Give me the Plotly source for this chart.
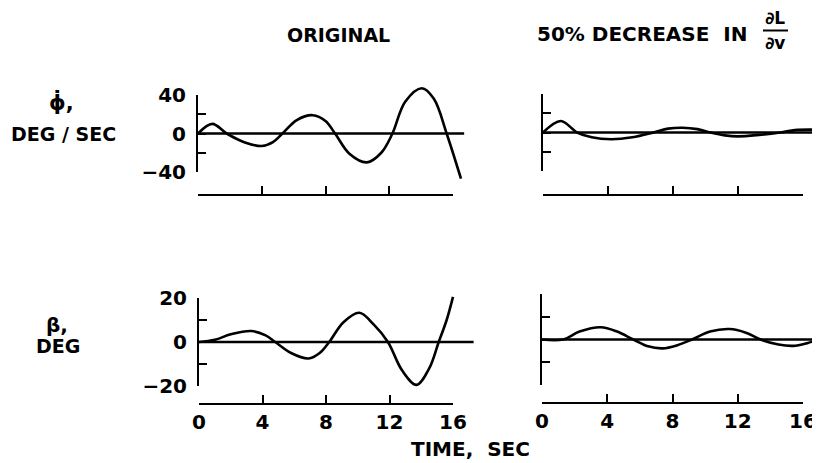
import plotly.graph_objects as go

# ---------------- data ----------------
time_ticks = [0, 4, 8, 12, 16]
time_tick_labels = ["0", "4", "8", "12", "16"]

phidot_ticks = [-40, -20, 0, 20, 40]
phidot_tick_labels = ["\u221240", "", "0", "", "40"]
beta_ticks = [-20, -10, 0, 10, 20]
beta_tick_labels = ["\u221220", "", "0", "", "20"]

# roll rate, original
t_phi_orig = [0, 0.9, 1.8, 2.9, 4.0, 4.7, 5.3, 6.2, 7.2, 8.0, 8.6, 9.5, 10.6, 11.5, 12.2, 13.0, 14.05, 14.8, 15.6, 16.5]
phi_orig = [0, 10, 0, -9, -13, -9, 0, 14, 19, 13, 0, -21, -30, -20, 0, 33, 47, 36, 0, -47]

# roll rate, 50% decrease in dL/dv
t_phi_mod = [0, 1.1, 2.1, 3.0, 4.2, 5.5, 6.8, 7.7, 8.6, 9.5, 10.3, 11.2, 12.0, 13.3, 14.6, 15.5, 16.5, 17.2]
phi_mod = [0, 12, 0, -5, -7, -5, 0, 4, 5, 3.5, 0, -3, -4, -2.5, 0, 2.5, 3, 2.5]

# sideslip, original
t_beta_orig = [0, 1.0, 2.0, 3.3, 4.2, 4.8, 5.8, 6.9, 7.6, 8.2, 9.1, 10.1, 11.0, 11.9, 12.8, 13.7, 14.5, 15.1, 15.6, 16.0]
beta_orig = [0, 1, 3.5, 5, 3, 0, -5, -7.5, -5, 0, 9, 13.3, 8, 0, -13, -19.5, -12, 0, 10, 20.5]

# sideslip, 50% decrease in dL/dv
t_beta_mod = [0, 1.3, 2.3, 3.6, 4.6, 5.6, 6.5, 7.4, 8.3, 9.2, 10.3, 11.5, 12.5, 13.4, 14.5, 15.4, 16.3, 17.1]
beta_mod = [0, 0, 3.5, 5.4, 3.5, 0, -3, -3.9, -2.5, 0, 3.5, 4.6, 3, 0, -2.2, -2.8, -1.5, 0.3]

# extent of the zero reference lines
zero_end = {"tl": 16.7, "tr": 17.3, "bl": 17.3, "br": 17.3}

# ---------------- layout geometry (screen pixels) ----------------
OFF = 8                      # page body margin
W, H = 824, 455              # figure size (a little wider than the visible area)
FONT = "DejaVu Sans"
INK = "black"


def fx(p):
    return (p - OFF) / W


def fy(p):
    return 1 - (p - OFF) / H


panels = {
    "tl": dict(x0=198, x16=453, ytop=95, ybot=172, ymax=40, xline=195, box=(190, 478, 76, 190),
               t=t_phi_orig, v=phi_orig, yt=phidot_ticks, ytl=phidot_tick_labels, ylab=True, xlab=False),
    "tr": dict(x0=543, x16=803, ytop=94, ybot=171, ymax=40, xline=195, box=(535, 822, 76, 190),
               t=t_phi_mod, v=phi_mod, yt=phidot_ticks, ytl=phidot_tick_labels, ylab=False, xlab=False),
    "bl": dict(x0=199, x16=453, ytop=298, ybot=386, ymax=20, xline=404, box=(190, 480, 284, 398),
               t=t_beta_orig, v=beta_orig, yt=beta_ticks, ytl=beta_tick_labels, ylab=True, xlab=True),
    "br": dict(x0=542, x16=803, ytop=294, ybot=385, ymax=20, xline=403, box=(535, 822, 284, 398),
               t=t_beta_mod, v=beta_mod, yt=beta_ticks, ytl=beta_tick_labels, ylab=False, xlab=True),
}

fig = go.Figure()
layout = {}
tickfont = dict(family=FONT, size=20, color=INK, weight="bold")

for i, (key, p) in enumerate(panels.items()):
    dn = 2 * i + 1   # data axes
    vn = 2 * i + 2   # visible (spine) axes
    sx = (p["x16"] - p["x0"]) / 16.0
    yc = (p["ytop"] + p["ybot"]) / 2.0
    sy = (p["ybot"] - p["ytop"]) / (2.0 * p["ymax"])
    bx0, bx1, by0, by1 = p["box"]

    layout[f"xaxis{dn}"] = dict(domain=[fx(bx0), fx(bx1)],
                                range=[(bx0 - p["x0"]) / sx, (bx1 - p["x0"]) / sx],
                                visible=False, anchor=f"y{dn}", automargin=False)
    layout[f"yaxis{dn}"] = dict(domain=[fy(by1), fy(by0)],
                                range=[(yc - by1) / sy, (yc - by0) / sy],
                                visible=False, anchor=f"x{dn}", automargin=False)
    xs = "x" if dn == 1 else f"x{dn}"
    ys = "y" if dn == 1 else f"y{dn}"
    fig.add_trace(go.Scatter(x=[0, zero_end[key]], y=[0, 0], mode="lines",
                             line=dict(color=INK, width=2.4), xaxis=xs, yaxis=ys,
                             showlegend=False, hoverinfo="skip"))
    fig.add_trace(go.Scatter(x=p["t"], y=p["v"], mode="lines",
                             line=dict(color=INK, width=2.6, shape="spline", smoothing=1.0),
                             xaxis=xs, yaxis=ys, showlegend=False, hoverinfo="skip"))

    layout[f"xaxis{vn}"] = dict(domain=[fx(p["x0"]), fx(p["x16"])], range=[0, 16],
                                anchor="free", position=fy(p["xline"]), side="bottom",
                                showline=True, linecolor=INK, linewidth=2,
                                ticks="inside", ticklen=8, tickwidth=2, tickcolor=INK,
                                tickvals=time_ticks, ticktext=time_tick_labels,
                                showticklabels=p["xlab"], ticklabelstandoff=0,
                                tickfont=tickfont,
                                showgrid=False, zeroline=False, fixedrange=True, automargin=False)
    layout[f"yaxis{vn}"] = dict(domain=[fy(p["ybot"]), fy(p["ytop"])], range=[-p["ymax"], p["ymax"]],
                                anchor="free", position=fx(p["x0"] - 1), side="left",
                                showline=True, linecolor=INK, linewidth=2,
                                ticks="inside", ticklen=8, tickwidth=2, tickcolor=INK,
                                tickvals=p["yt"], ticktext=p["ytl"],
                                showticklabels=p["ylab"], ticklabelstandoff=6,
                                tickfont=tickfont,
                                showgrid=False, zeroline=False, fixedrange=True, automargin=False)
    fig.add_trace(go.Scatter(x=[None], y=[None], xaxis=f"x{vn}", yaxis=f"y{vn}",
                             showlegend=False, hoverinfo="skip"))


def txt(x, y, s, size=19, anchor="center"):
    return dict(x=fx(x), y=fy(y), xref="paper", yref="paper", text=s, showarrow=False,
                xanchor=anchor, yanchor="middle",
                font=dict(family=FONT, size=size, color=INK, weight="bold"))


annotations = [
    txt(338, 35, "ORIGINAL", size=19),
    txt(750, 34, "50% DECREASE  IN", size=20, anchor="right"),
    txt(775, 18, "\u2202L", size=17),
    txt(775, 43, "\u2202v", size=17),
    txt(61, 102, "\u03d5\u0307,", size=21),
    txt(63, 134, "DEG / SEC", size=19),
    txt(57, 325, "\u03b2,", size=20),
    txt(58, 346, "DEG", size=19),
    txt(470, 449, "TIME,  SEC", size=20),
]

shapes = [dict(type="line", xref="paper", yref="paper", x0=fx(763), x1=fx(788), y0=fy(30.5), y1=fy(30.5),
               line=dict(color=INK, width=2))]

fig.update_layout(template="none", width=W, height=H, margin=dict(l=0, r=0, t=0, b=0, pad=0),
                  autosize=False, paper_bgcolor="white", plot_bgcolor="rgba(0,0,0,0)",
                  font=dict(family=FONT, color=INK),
                  annotations=annotations, shapes=shapes, **layout)

fig.write_html("out.html")
